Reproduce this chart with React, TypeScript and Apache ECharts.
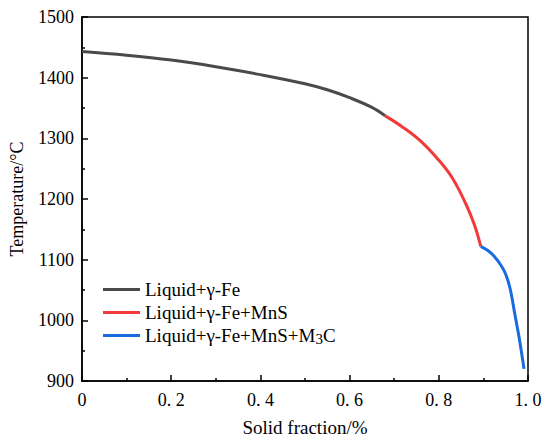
import React, { useEffect, useRef } from "react";
import * as echarts from "echarts";

const seriesNames = ["Liquid+γ-Fe", "Liquid+γ-Fe+MnS", "Liquid+γ-Fe+MnS+M3C"];
const seriesColors = ["#4a4a4a", "#f23a3a", "#1a6be0"];

const liquidFe: [number, number][] = [
  [0, 1443], [0.1, 1437], [0.2, 1429], [0.3, 1418], [0.4, 1405],
  [0.5, 1390], [0.55, 1380], [0.6, 1367], [0.65, 1351], [0.68, 1337],
];
const liquidFeMnS: [number, number][] = [
  [0.68, 1337], [0.72, 1318], [0.76, 1295], [0.8, 1264], [0.83, 1235],
  [0.86, 1193], [0.88, 1157], [0.894, 1122],
];
const liquidFeMnSM3C: [number, number][] = [
  [0.894, 1122], [0.91, 1115], [0.925, 1105], [0.94, 1090], [0.95, 1076],
  [0.96, 1052], [0.97, 1012], [0.98, 972], [0.991, 920],
];

const xTicks = { min: 0, max: 1, interval: 0.2 };
const yTicks = { min: 900, max: 1500, interval: 100 };

const FONT = "Liberation Serif";

export default function App() {
  const ref = useRef<HTMLDivElement>(null);
  useEffect(() => {
    if (!ref.current) return;
    document.body.style.margin = "0";
    const chart = echarts.init(ref.current, undefined, { renderer: "svg" });
    const data = [liquidFe, liquidFeMnS, liquidFeMnSM3C];
    chart.setOption({
      animation: false,
      backgroundColor: "#ffffff",
      textStyle: { fontFamily: FONT, color: "#000" },
      grid: {
        left: 76, right: 22, top: 17, bottom: 62,
        show: true, borderColor: "#000", borderWidth: 1.5, backgroundColor: "transparent",
      },
      legend: {
        orient: "vertical",
        left: 103,
        top: 280,
        padding: 0,
        icon: "rect",
        itemWidth: 37,
        itemHeight: 3,
        itemGap: 4,
        textStyle: {
          fontFamily: FONT,
          fontSize: 19,
          color: "#000",
          rich: {
            sub: { fontFamily: FONT, fontSize: 15, color: "#000", verticalAlign: "bottom", padding: [6, 0, 0, 0] },
          },
        },
        formatter: (name: string) =>
          name === seriesNames[2] ? "Liquid+γ-Fe+MnS+M{sub|3}C" : name,
        data: seriesNames,
      },
      xAxis: {
        type: "value",
        min: xTicks.min,
        max: xTicks.max,
        interval: xTicks.interval,
        name: "Solid fraction/%",
        nameLocation: "middle",
        nameGap: 37,
        nameTextStyle: { fontFamily: FONT, fontSize: 19, color: "#000" },
        axisLine: { show: true, lineStyle: { color: "#000", width: 1.5 } },
        axisTick: { show: true, inside: true, length: 6, lineStyle: { color: "#000", width: 1.5 } },
        minorTick: { show: true, splitNumber: 2, length: 3, lineStyle: { color: "#000", width: 1.5 } },
        splitLine: { show: false },
        axisLabel: {
          margin: 10,
          fontFamily: FONT,
          fontSize: 18,
          color: "#000",
          formatter: (v: number) => (v === 0 ? "0" : v.toFixed(1).replace(".", ". ")),
        },
      },
      yAxis: {
        type: "value",
        min: yTicks.min,
        max: yTicks.max,
        interval: yTicks.interval,
        name: "Temperature/°C",
        nameLocation: "middle",
        nameGap: 56,
        nameTextStyle: { fontFamily: FONT, fontSize: 18, color: "#000" },
        axisLine: { show: true, lineStyle: { color: "#000", width: 1.5 } },
        axisTick: { show: true, inside: true, length: 6, lineStyle: { color: "#000", width: 1.5 } },
        minorTick: { show: true, splitNumber: 2, length: 3, lineStyle: { color: "#000", width: 1.5 } },
        splitLine: { show: false },
        axisLabel: {
          margin: 8,
          fontFamily: FONT,
          fontSize: 18,
          color: "#000",
          formatter: (v: number) => String(v),
        },
      },
      series: seriesNames.map((name, i) => ({
        name,
        type: "line",
        data: data[i],
        smooth: 0.4,
        showSymbol: false,
        symbol: "none",
        color: seriesColors[i],
        lineStyle: { color: seriesColors[i], width: 3 },
      })),
    });
    return () => chart.dispose();
  }, []);
  return <div ref={ref} style={{ width: 550, height: 443 }} />;
}
